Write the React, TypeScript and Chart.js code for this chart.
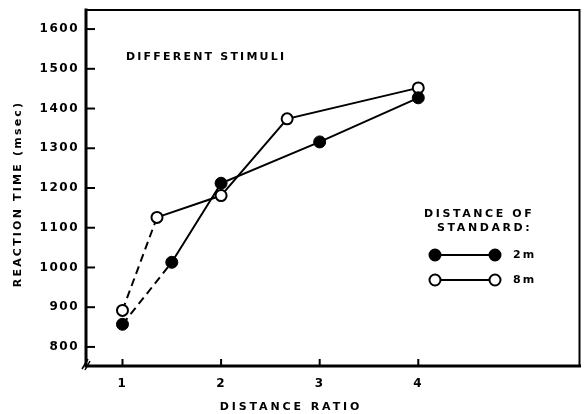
import React, { useEffect, useRef } from "react";
import { Chart, registerables } from "chart.js";

Chart.register(...registerables);

// Distance of standard 2 m (filled circles)
const ratio2m = [1, 1.5, 2, 3, 4];
const rt2m = [857, 1013, 1212, 1316, 1427];
// Distance of standard 8 m (open circles)
const ratio8m = [1, 1.35, 2, 2.67, 4];
const rt8m = [892, 1126, 1181, 1374, 1452];

const xTicks = [1, 2, 3, 4];
const yTicks = [800, 900, 1000, 1100, 1200, 1300, 1400, 1500, 1600];

const FONT = "'DejaVu Sans', sans-serif";

const decor = {
  id: "decor",
  beforeDraw(chart: any) {
    const ctx = chart.ctx;
    ctx.save();
    ctx.fillStyle = "#fff";
    ctx.fillRect(0, 0, chart.width, chart.height);
    ctx.restore();
    ctx.letterSpacing = "1.5px";
  },
  afterDraw(chart: any) {
    const { ctx, chartArea: a, scales } = chart;
    const x = scales.x;
    const y = scales.y;
    ctx.save();
    ctx.strokeStyle = "#000";
    ctx.fillStyle = "#000";
    ctx.lineCap = "square";
    // frame
    ctx.lineWidth = 2;
    ctx.beginPath();
    ctx.moveTo(a.left, a.top);
    ctx.lineTo(a.right, a.top);
    ctx.lineTo(a.right, a.bottom);
    ctx.stroke();
    ctx.lineWidth = 3;
    ctx.beginPath();
    ctx.moveTo(a.left, a.top);
    ctx.lineTo(a.left, a.bottom);
    ctx.lineTo(a.right, a.bottom);
    ctx.stroke();
    // inward ticks
    ctx.lineWidth = 2;
    ctx.lineCap = "butt";
    yTicks.forEach((v) => {
      const py = y.getPixelForValue(v);
      ctx.beginPath();
      ctx.moveTo(a.left, py);
      ctx.lineTo(a.left + 9, py);
      ctx.stroke();
    });
    xTicks.forEach((v) => {
      const px = x.getPixelForValue(v);
      ctx.beginPath();
      ctx.moveTo(px, a.bottom);
      ctx.lineTo(px, a.bottom - 7);
      ctx.stroke();
    });
    // axis break mark
    ctx.lineWidth = 1.5;
    ctx.beginPath();
    ctx.moveTo(a.left - 4, a.bottom + 3);
    ctx.lineTo(a.left + 2, a.bottom - 7);
    ctx.moveTo(a.left - 1, a.bottom + 4);
    ctx.lineTo(a.left + 4, a.bottom - 5);
    ctx.stroke();

    // texts
    ctx.textBaseline = "middle";
    ctx.font = `bold 11px ${FONT}`;
    ctx.letterSpacing = "2.2px";
    ctx.textAlign = "left";
    ctx.fillText("DIFFERENT STIMULI", 126, 57);

    // x title
    ctx.letterSpacing = "2.9px";
    ctx.textAlign = "center";
    ctx.fillText("DISTANCE RATIO", 291, 407);

    // y title
    ctx.save();
    ctx.translate(18, 194);
    ctx.rotate(-Math.PI / 2);
    ctx.letterSpacing = "2.2px";
    ctx.fillText("REACTION TIME (msec)", 0, 0);
    ctx.restore();

    // legend
    ctx.letterSpacing = "2.6px";
    ctx.textAlign = "left";
    ctx.fillText("DISTANCE OF", 424, 214);
    ctx.fillText("STANDARD:", 437, 228);
    const items = [
      { label: "2m", yy: 255, fill: "#000" },
      { label: "8m", yy: 280, fill: "#fff" },
    ];
    items.forEach((it) => {
      ctx.lineWidth = 2;
      ctx.beginPath();
      ctx.moveTo(435, it.yy);
      ctx.lineTo(495, it.yy);
      ctx.stroke();
      [435, 495].forEach((cx) => {
        ctx.beginPath();
        ctx.arc(cx, it.yy, 5.5, 0, Math.PI * 2);
        ctx.fillStyle = it.fill;
        ctx.fill();
        ctx.lineWidth = 2;
        ctx.stroke();
      });
      ctx.fillStyle = "#000";
      ctx.letterSpacing = "2px";
      ctx.fillText(it.label, 513, it.yy);
    });
    ctx.restore();
  },
};

export default function App() {
  const ref = useRef<HTMLCanvasElement | null>(null);
  useEffect(() => {
    if (!ref.current) return;
    const dashFirst = (c: any) => (c.p0DataIndex === 0 ? [8, 5] : undefined);
    const chart = new Chart(ref.current, {
      type: "scatter",
      data: {
        datasets: [
          {
            label: "2m",
            data: ratio2m.map((v, i) => ({ x: v, y: rt2m[i] })),
            showLine: true,
            borderColor: "#000",
            borderWidth: 2,
            pointRadius: 6,
            pointBackgroundColor: "#000",
            pointBorderColor: "#000",
            pointBorderWidth: 1,
            segment: { borderDash: dashFirst },
          },
          {
            label: "8m",
            data: ratio8m.map((v, i) => ({ x: v, y: rt8m[i] })),
            showLine: true,
            borderColor: "#000",
            borderWidth: 2,
            pointRadius: 5.5,
            pointBackgroundColor: "#fff",
            pointBorderColor: "#000",
            pointBorderWidth: 2,
            segment: { borderDash: dashFirst },
          },
        ],
      },
      options: {
        animation: false,
        responsive: true,
        maintainAspectRatio: false,
        layout: { padding: { left: 0, top: 10, right: 2, bottom: 0 } },
        plugins: { legend: { display: false }, tooltip: { enabled: false } },
        scales: {
          x: {
            type: "linear",
            min: 0.63,
            max: 5.635,
            afterBuildTicks: (s: any) => {
              s.ticks = xTicks.map((v) => ({ value: v }));
            },
            afterFit: (s: any) => {
              s.height = 48;
              s.paddingLeft = 0;
              s.paddingRight = 0;
            },
            grid: { display: false, drawTicks: false },
            border: { display: false },
            ticks: {
              color: "#000",
              font: { family: FONT, weight: "bold", size: 12 },
              padding: 11,
              maxRotation: 0,
              autoSkip: false,
              callback: (v: any) => String(v),
            },
          },
          y: {
            type: "linear",
            min: 752,
            max: 1648,
            afterBuildTicks: (s: any) => {
              s.ticks = yTicks.map((v) => ({ value: v }));
            },
            afterFit: (s: any) => {
              s.width = 86;
              s.paddingTop = 0;
              s.paddingBottom = 0;
            },
            grid: { display: false, drawTicks: false },
            border: { display: false },
            ticks: {
              color: "#000",
              font: { family: FONT, weight: "bold", size: 12 },
              padding: 7,
              autoSkip: false,
              callback: (v: any) => String(v),
            },
          },
        },
      },
      plugins: [decor],
    });
    return () => chart.destroy();
  }, []);
  return (
    <div style={{ position: "fixed", left: 0, top: 0, width: 587, height: 414, background: "#fff" }}>
      <canvas ref={ref} />
    </div>
  );
}
